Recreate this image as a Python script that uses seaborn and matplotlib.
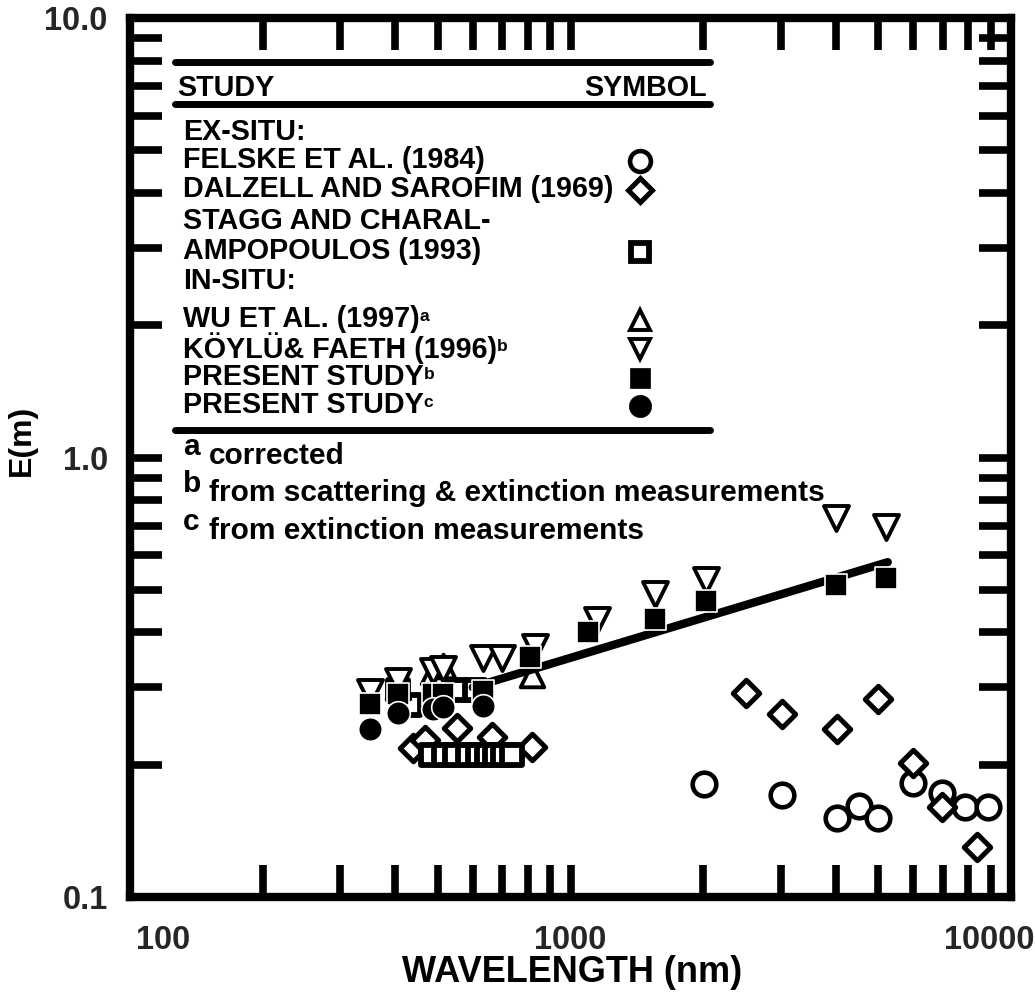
import numpy as np
import pandas as pd
import matplotlib
matplotlib.use("Agg")
import matplotlib.pyplot as plt
import seaborn as sns
from matplotlib.ticker import FixedLocator, FixedFormatter, NullFormatter
from matplotlib.transforms import ScaledTranslation

# ---------------- data ----------------
felske_x = [2010, 3020, 4030, 4520, 4990, 6000, 6970, 7870, 8870]
felske_y = [0.181, 0.171, 0.151, 0.161, 0.151, 0.182, 0.172, 0.160, 0.160]

dalzell_x = [439, 467, 552, 663, 818, 2500, 3020, 4030, 4990, 6000, 6970, 8370]
dalzell_y = [0.218, 0.228, 0.243, 0.231, 0.219, 0.291, 0.261, 0.241, 0.282, 0.202, 0.160, 0.130]

stagg_x = [406, 432, 506, 555, 607, 483, 515, 548, 585, 617, 647, 675, 703, 736]
stagg_y = [0.296, 0.274, 0.281, 0.296, 0.296, 0.210, 0.210, 0.210, 0.210, 0.210, 0.210, 0.210, 0.210, 0.210]

wu_x = [405, 488, 514, 818]
wu_y = [0.300, 0.325, 0.335, 0.320]

koylu_x = [351, 405, 488, 514, 633, 700, 830, 1150, 1555, 2031, 4006, 5202]
koylu_y = [0.293, 0.310, 0.326, 0.330, 0.350, 0.350, 0.370, 0.427, 0.489, 0.526, 0.727, 0.695]

present_b_x = [351, 405, 488, 514, 633, 809, 1096, 1555, 2031, 4006, 5202]
present_b_y = [0.275, 0.290, 0.290, 0.290, 0.295, 0.352, 0.401, 0.430, 0.471, 0.513, 0.532]

present_c_x = [351, 405, 488, 514, 633]
present_c_y = [0.241, 0.262, 0.268, 0.270, 0.272]

fit_x = [600, 5250]
fit_y = [0.300, 0.578]

x_ticks = [100, 1000, 10000]
x_ticklabels = ["100", "1000", "10000"]
y_ticks = [0.1, 1.0, 10.0]
y_ticklabels = ["0.1", "1.0", "10.0"]

legend_rows = [
    ("EX-SITU:", None, ""),
    ("FELSKE ET AL. (1984)", "felske", ""),
    ("DALZELL AND SAROFIM (1969)", "dalzell", ""),
    ("STAGG AND CHARAL-", None, ""),
    ("AMPOPOULOS (1993)", "stagg", ""),
    ("IN-SITU:", None, ""),
    ("WU ET AL. (1997)", "wu", "a"),
    ("KÖYLÜ& FAETH (1996)", "koylu", "b"),
    ("PRESENT STUDY", "present_b", "b"),
    ("PRESENT STUDY", "present_c", "c"),
]
footnotes = [("a", "corrected"),
             ("b", "from scattering & extinction measurements"),
             ("c", "from extinction measurements")]

# ---------------- style ----------------
sns.set_theme(style="white")
plt.rcParams["font.family"] = ["Liberation Sans", "DejaVu Sans"]
plt.rcParams["font.weight"] = "bold"
plt.rcParams["axes.labelweight"] = "bold"

W, H = 1035, 993
fig = plt.figure(figsize=(W / 100, H / 100), dpi=100)
fig.patch.set_facecolor("white")
L, R, T, B = 130, 1011, 18, 897
ax = fig.add_axes([L / W, 1 - B / H, (R - L) / W, (B - T) / H])
ax.set_facecolor("white")


def A(px, py):
    """pixel position -> axes fraction"""
    return ((px - L) / (R - L), (B - py) / (B - T))


styles = {
    "felske": dict(marker="o", s=17 ** 2, color="white", edgecolor="black", linewidth=3.3),
    "dalzell": dict(marker="D", s=13.5 ** 2, color="white", edgecolor="black", linewidth=3.6),
    "stagg": dict(marker="s", s=15 ** 2, color="white", edgecolor="black", linewidth=4.2),
    "wu": dict(marker="^", s=17 ** 2, color="white", edgecolor="black", linewidth=2.8),
    "koylu": dict(marker="v", s=18 ** 2, color="white", edgecolor="black", linewidth=2.8),
    "present_b": dict(marker="s", s=16.5 ** 2, color="black", edgecolor="white", linewidth=1.2),
    "present_c": dict(marker="o", s=17 ** 2, color="black", edgecolor="white", linewidth=1.2),
}
legend_ms = {"felske": 15, "dalzell": 12, "stagg": 13, "wu": 14, "koylu": 14,
             "present_b": 15, "present_c": 16}
series = {
    "felske": (felske_x, felske_y),
    "dalzell": (dalzell_x, dalzell_y),
    "stagg": (stagg_x, stagg_y),
    "wu": (wu_x, wu_y),
    "koylu": (koylu_x, koylu_y),
    "present_b": (present_b_x, present_b_y),
    "present_c": (present_c_x, present_c_y),
}

ax.set_xscale("log")
ax.set_yscale("log")

z = 3
for key in ["felske", "dalzell", "stagg", "wu", "koylu"]:
    x, y = series[key]
    sns.scatterplot(x=x, y=y, ax=ax, zorder=z, legend=False, **styles[key])
    z += 1

sns.lineplot(x=fit_x, y=fit_y, ax=ax, color="black", linewidth=6,
             solid_capstyle="round", zorder=z, legend=False)
z += 1
for key in ["present_b", "present_c"]:
    x, y = series[key]
    sns.scatterplot(x=x, y=y, ax=ax, zorder=z, legend=False, **styles[key])
    z += 1

ax.set_xlim(100, 10000)
ax.set_ylim(0.1, 10)

# ---------------- axes / ticks ----------------
for sp in ax.spines.values():
    sp.set_linewidth(6)
    sp.set_color("black")
    sp.set_visible(True)

ax.xaxis.set_major_locator(FixedLocator(x_ticks))
ax.xaxis.set_major_formatter(FixedFormatter(x_ticklabels))
ax.yaxis.set_major_locator(FixedLocator(y_ticks))
ax.yaxis.set_major_formatter(FixedFormatter(y_ticklabels))
minor_x = [m * d for d in (100, 1000) for m in range(2, 10)]
minor_y = [m * d for d in (0.1, 1.0) for m in range(2, 10)]
ax.xaxis.set_minor_locator(FixedLocator(minor_x))
ax.yaxis.set_minor_locator(FixedLocator(minor_y))
ax.xaxis.set_minor_formatter(NullFormatter())
ax.yaxis.set_minor_formatter(NullFormatter())

ax.tick_params(axis="both", which="both", direction="in", length=23, width=5.5,
               top=True, right=True, bottom=True, left=True, color="black")
ax.tick_params(axis="x", which="major", labelsize=23.5, pad=20)
ax.tick_params(axis="y", which="major", labelsize=23.5, pad=16)
for lab in ax.get_xticklabels() + ax.get_yticklabels():
    lab.set_fontweight("bold")

xt = ax.xaxis.get_major_ticks()
xt[0].label1.set_transform(xt[0].label1.get_transform() + ScaledTranslation(33 / 100, 0, fig.dpi_scale_trans))
xt[2].label1.set_transform(xt[2].label1.get_transform() + ScaledTranslation(-22 / 100, 0, fig.dpi_scale_trans))

ax.set_xlabel("WAVELENGTH (nm)", fontsize=26, fontweight="bold", color="black")
ax.set_ylabel("E(m)", fontsize=23, fontweight="bold", color="black")
ax.xaxis.set_label_coords(*A(572, 955))
ax.yaxis.set_label_coords(*A(37, 440))

# ---------------- legend (drawn as a table) ----------------
rule_kw = dict(color="black", linewidth=5, solid_capstyle="round",
               transform=ax.transAxes, clip_on=False, zorder=20)
x0, _ = A(175, 0)
x1, _ = A(710, 0)
for py in (62, 104, 430):
    _, yy = A(0, py)
    ax.plot([x0, x1], [yy, yy], **rule_kw)

txt_kw = dict(transform=ax.transAxes, fontsize=20.7, fontweight="bold", color="black",
              va="center", zorder=20)
ax.text(*A(177, 88), "STUDY", ha="left", **txt_kw)
ax.text(*A(707, 88), "SYMBOL", ha="right", **txt_kw)

row_py = [132, 160, 189, 221, 251, 281, 319, 348, 377, 405]
sym_px = 640
for (label, key, sup), py in zip(legend_rows, row_py):
    t = ax.text(*A(183, py), label, ha="left", **txt_kw)
    if sup:
        ax.annotate(sup, xy=(1.0, 0.32), xycoords=t, fontsize=12.5, fontweight="bold",
                    ha="left", va="bottom", zorder=20, color="black")
    if key is not None:
        st = styles[key]
        filled = st["color"] == "black"
        ax.plot([A(sym_px, 0)[0]], [A(0, py + 1)[1]], transform=ax.transAxes,
                marker=st["marker"], markersize=legend_ms[key],
                markerfacecolor=st["color"], markeredgecolor="black",
                markeredgewidth=0.5 if filled else st["linewidth"],
                linestyle="none", clip_on=False, zorder=20)

foot_kw = dict(txt_kw)
foot_kw["fontsize"] = 21.5
foot_py = [456, 493, 531]
for (letter, text), py in zip(footnotes, foot_py):
    ax.text(*A(183, py - 9), letter, ha="left", **foot_kw)
    ax.text(*A(209, py), text, ha="left", **foot_kw)

fig.savefig("out.png", dpi=100, facecolor="white")
